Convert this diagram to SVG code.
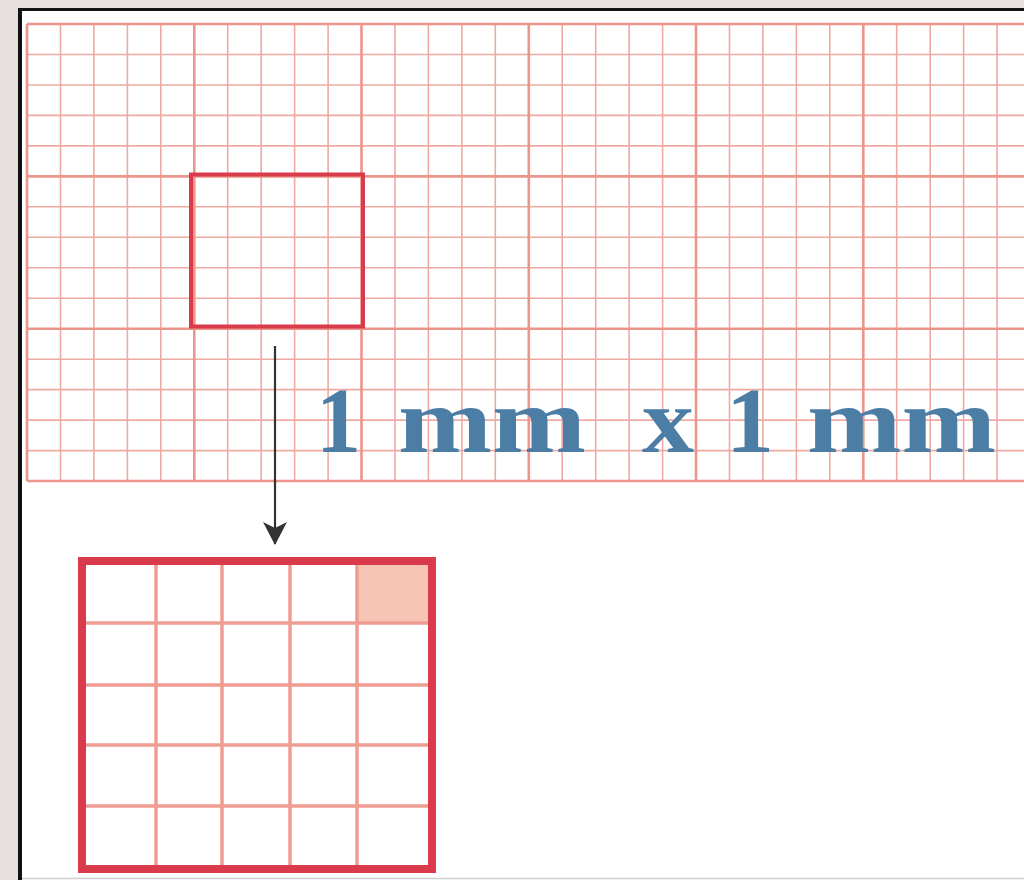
<svg xmlns="http://www.w3.org/2000/svg" width="1024" height="880" viewBox="0 0 1024 880">
  <style>
    .minor { stroke: #eeaaa2; stroke-width: 1.6; fill: none; }
    .major { stroke: #ec958b; stroke-width: 2.6; fill: none; }
    .redbox { stroke: #d93a4c; fill: none; }
    .inner { stroke: #ef9d93; stroke-width: 3.5; fill: none; }
    .lbl { font-family: "Liberation Serif", "DejaVu Serif", serif; font-weight: bold; font-size: 94px; fill: #4b7da5; }
    .conn { stroke: #333333; stroke-width: 2.2; fill: none; }
  </style>
  <defs>
    <marker id="arrow" viewBox="0 0 23 24" refX="22" refY="12" markerWidth="23" markerHeight="24" markerUnits="userSpaceOnUse" orient="auto">
      <path d="M0,0 L23,12 L0,24 L6,12 Z" fill="#333333"/>
    </marker>
  </defs>
  <rect x="0" y="0" width="1024" height="880" fill="#e7dfdf"/>
  <rect x="20" y="9" width="1004" height="871" fill="#ffffff"/>
  <g id="frame">
    <line x1="20" y1="8" x2="20" y2="880" stroke="#111111" stroke-width="4"/>
    <line x1="18" y1="9.5" x2="1024" y2="9.5" stroke="#111111" stroke-width="3"/>
    <line x1="22" y1="878.5" x2="1024" y2="878.5" stroke="#cfcfcf" stroke-width="1.5"/>
  </g>
  <g id="grid">
    <path class="minor" d="M60.5,24V481 M93.9,24V481 M127.4,24V481 M160.8,24V481 M227.7,24V481 M261.2,24V481 M294.6,24V481 M328.1,24V481 M395,24V481 M428.4,24V481 M461.9,24V481 M495.3,24V481 M562.2,24V481 M595.7,24V481 M629.1,24V481 M662.6,24V481 M729.5,24V481 M762.9,24V481 M796.4,24V481 M829.8,24V481 M896.7,24V481 M930.2,24V481 M963.6,24V481 M997,24V481 M27,54.5H1024 M27,85H1024 M27,115.4H1024 M27,145.9H1024 M27,206.8H1024 M27,237.3H1024 M27,267.8H1024 M27,298.2H1024 M27,359.2H1024 M27,389.6H1024 M27,420.1H1024 M27,450.6H1024"/>
    <path class="major" d="M27,24V481 M194.3,24V481 M361.5,24V481 M528.8,24V481 M696,24V481 M863.3,24V481 M27,24H1024 M27,176.4H1024 M27,328.7H1024 M27,481H1024"/>
  </g>
  <g id="highlight-box">
    <rect class="redbox" x="191" y="174.5" width="172" height="152" stroke-width="4"/>
  </g>
  <g id="label">
    <text class="lbl" x="316" y="452" textLength="45" lengthAdjust="spacingAndGlyphs">1</text>
    <text class="lbl" x="398" y="452" textLength="188" lengthAdjust="spacingAndGlyphs">mm</text>
    <text class="lbl" x="642" y="452" textLength="52" lengthAdjust="spacingAndGlyphs">x</text>
    <text class="lbl" x="726" y="452" textLength="48" lengthAdjust="spacingAndGlyphs">1</text>
    <text class="lbl" x="807" y="452" textLength="189" lengthAdjust="spacingAndGlyphs">mm</text>
  </g>
  <g id="zoom-box">
    <rect x="357" y="561" width="75" height="62" fill="#f6c5b6"/>
    <path class="inner" d="M156,561V869 M222,561V869 M290,561V869 M357,561V869 M82,623H432 M82,685H432 M82,745H432 M82,806H432"/>
    <rect class="redbox" x="82" y="561" width="350" height="308" stroke-width="8"/>
  </g>
  <g id="connectors">
    <line class="conn" x1="275" y1="346" x2="275" y2="544" marker-end="url(#arrow)"/>
  </g>
</svg>
